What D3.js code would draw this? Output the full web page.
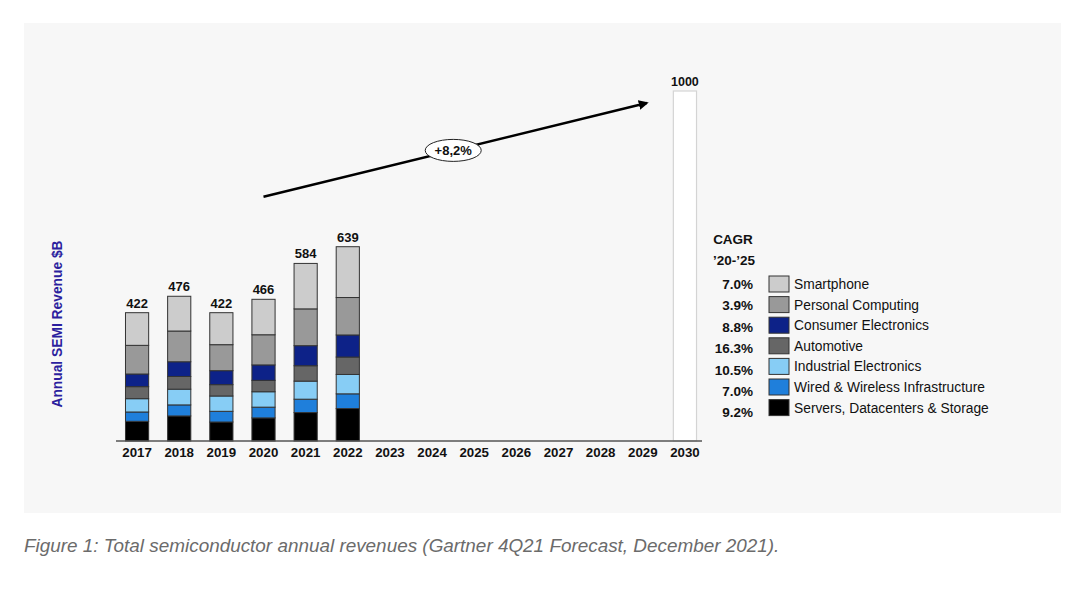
<!DOCTYPE html>
<html>
<head>
<meta charset="utf-8">
<title>Total semiconductor annual revenues</title>
<script src="https://d3js.org/d3.v7.min.js"></script>
<style>
  body { margin: 0; background: #ffffff; }
  svg text { font-family: "Liberation Sans", Arial, sans-serif; }
</style>
</head>
<body>
<script>
// categories
const years = ["2017", "2018", "2019", "2020", "2021", "2022", "2023", "2024", "2025", "2026", "2027", "2028", "2029", "2030"];
const actualYears = ["2017", "2018", "2019", "2020", "2021", "2022"];
const segments = ["Servers, Datacenters & Storage", "Wired & Wireless Infrastructure", "Industrial Electronics",
                  "Automotive", "Consumer Electronics", "Personal Computing", "Smartphone"];
const segmentColors = ["#000000", "#1f7fdb", "#87cdf5", "#666666", "#0d2288", "#999999", "#cccccc"];
const cagr = ["9.2%", "7.0%", "10.5%", "16.3%", "8.8%", "3.9%", "7.0%"];

// series values, $B
const servers    = [64.7, 82.4, 62.5, 76.0, 93.5, 106.7];
const wired      = [30.7, 36.3, 35.1, 35.3, 44.0, 48.4];
const industrial = [43.8, 51.7, 50.4, 50.7, 59.4, 63.8];
const automotive = [39.5, 41.8, 37.3, 37.5, 50.6, 57.2];
const consumer   = [41.6, 48.4, 46.0, 50.7, 66.0, 72.6];
const pc         = [94.3, 101.1, 85.5, 99.2, 121.0, 123.2];
const smartphone = [107.4, 114.3, 105.2, 116.6, 149.5, 167.1];
const totals     = [422, 476, 422, 466, 584, 639];

const forecastYear = "2030";
const forecastTotal = 1000;
const growthLabel = "+8,2%";
const growthFrom = {year: "2020", value: 755};
const growthTo = {year: "2029", value: 972};

const yLabel = "Annual SEMI Revenue $B";
const caption = "Figure 1: Total semiconductor annual revenues (Gartner 4Q21 Forecast, December 2021).";

const W = 1080, H = 589;
const svg = d3.select("body").append("svg")
    .attr("width", W)
    .attr("height", H);

// grey panel
svg.append("rect")
    .attr("x", 24).attr("y", 23)
    .attr("width", 1037).attr("height", 490)
    .attr("fill", "#f7f7f7");

var x = d3.scaleBand()
    .domain(years)
    .range([116, 706])
    .paddingInner(0.45)
    .paddingOuter(0.225);

// the 2030 bar is drawn taller than to scale in the original, so the scale bends above 640
var y = d3.scaleLinear()
    .domain([0, 640, 1000])
    .range([441, 246.4, 91]);

// stack the actual years
const series = [servers, wired, industrial, automotive, consumer, pc, smartphone];
const rows = actualYears.map((yr, i) => {
    const r = {year: yr};
    segments.forEach((s, j) => { r[s] = series[j][i]; });
    return r;
});
const stacked = d3.stack().keys(segments)(rows);

svg.append("g").selectAll("g")
    .data(stacked)
    .join("g")
    .attr("fill", (d, i) => segmentColors[i])
    .selectAll("rect")
    .data(d => d)
    .join("rect")
    .attr("x", d => x(d.data.year))
    .attr("y", d => y(d[1]))
    .attr("width", x.bandwidth())
    .attr("height", d => y(d[0]) - y(d[1]))
    .attr("stroke", "#333")
    .attr("stroke-width", 1);

// forecast bar
svg.append("rect")
    .attr("x", x(forecastYear))
    .attr("y", y(forecastTotal))
    .attr("width", x.bandwidth())
    .attr("height", y(0) - y(forecastTotal))
    .attr("fill", "#ffffff")
    .attr("stroke", "#d4d4d4")
    .attr("stroke-width", 1.2);

// totals
svg.append("g").selectAll("text")
    .data(actualYears)
    .join("text")
    .attr("x", d => x(d) + x.bandwidth() / 2)
    .attr("y", (d, i) => y(totals[i]) - 5)
    .attr("text-anchor", "middle")
    .attr("font-size", 13)
    .attr("font-weight", "bold")
    .attr("fill", "#111")
    .text((d, i) => totals[i]);

svg.append("text")
    .attr("x", x(forecastYear) + x.bandwidth() / 2)
    .attr("y", y(forecastTotal) - 5)
    .attr("text-anchor", "middle")
    .attr("font-size", 12.5)
    .attr("font-weight", "bold")
    .attr("fill", "#111")
    .text(forecastTotal);

// x axis
var xAxis = svg.append("g")
    .attr("transform", "translate(0," + y(0) + ")")
    .call(d3.axisBottom(x).tickSize(0).tickPadding(7));
xAxis.select(".domain")
    .attr("stroke", "#555")
    .attr("stroke-width", 1.5)
    .attr("d", "M" + 116 + ",0H" + 702);
xAxis.selectAll("text")
    .attr("font-family", "Liberation Sans, Arial, sans-serif")
    .attr("font-size", 13.3)
    .attr("font-weight", "bold")
    .attr("fill", "#111");

// y axis title
svg.append("text")
    .attr("transform", "translate(62,324) rotate(-90)")
    .attr("text-anchor", "middle")
    .attr("font-size", 13.8)
    .attr("font-weight", "bold")
    .attr("fill", "#2c1f9e")
    .text(yLabel);

// growth arrow
svg.append("defs").append("marker")
    .attr("id", "arrowhead")
    .attr("viewBox", "0 0 10 10")
    .attr("refX", 8).attr("refY", 5)
    .attr("markerWidth", 4).attr("markerHeight", 4)
    .attr("orient", "auto")
    .append("path")
    .attr("d", "M0,0L10,5L0,10z")
    .attr("fill", "#000");

const ax1 = x(growthFrom.year) + x.bandwidth() / 2, ay1 = y(growthFrom.value);
const ax2 = x(growthTo.year) + x.bandwidth() / 2 + 4, ay2 = y(growthTo.value);
svg.append("line")
    .attr("x1", ax1).attr("y1", ay1)
    .attr("x2", ax2).attr("y2", ay2)
    .attr("stroke", "#000")
    .attr("stroke-width", 2.5)
    .attr("marker-end", "url(#arrowhead)");

const ex = ax1 + (ax2 - ax1) * 0.495, ey = ay1 + (ay2 - ay1) * 0.495;
svg.append("ellipse")
    .attr("cx", ex).attr("cy", ey)
    .attr("rx", 28).attr("ry", 11)
    .attr("fill", "#ffffff")
    .attr("stroke", "#222")
    .attr("stroke-width", 1);
svg.append("text")
    .attr("x", ex).attr("y", ey + 4.5)
    .attr("text-anchor", "middle")
    .attr("font-size", 13)
    .attr("font-weight", "bold")
    .attr("fill", "#111")
    .text(growthLabel);

// legend with CAGR
svg.append("text")
    .attr("x", 733).attr("y", 244)
    .attr("text-anchor", "middle")
    .attr("font-size", 13.5)
    .attr("font-weight", "bold")
    .attr("fill", "#111")
    .text("CAGR");
svg.append("text")
    .attr("x", 734).attr("y", 265)
    .attr("text-anchor", "middle")
    .attr("font-size", 13.5)
    .attr("font-weight", "bold")
    .attr("fill", "#111")
    .text("\u201920-\u201925");

const legendOrder = d3.range(segments.length).reverse();
const lg = svg.append("g").selectAll("g")
    .data(legendOrder)
    .join("g");

lg.append("rect")
    .attr("x", 769)
    .attr("y", (d, k) => 276 + k * 20.6)
    .attr("width", 20).attr("height", 16)
    .attr("fill", d => segmentColors[d])
    .attr("stroke", "#333")
    .attr("stroke-width", 1);

lg.append("text")
    .attr("x", 794)
    .attr("y", (d, k) => 289 + k * 20.6)
    .attr("font-size", 13.8)
    .attr("fill", "#111")
    .text(d => segments[d]);

lg.append("text")
    .attr("x", 753)
    .attr("y", (d, k) => 289 + k * 21.4)
    .attr("text-anchor", "end")
    .attr("font-size", 13.5)
    .attr("font-weight", "bold")
    .attr("fill", "#111")
    .text(d => cagr[d]);

// caption
svg.append("text")
    .attr("x", 24).attr("y", 552)
    .attr("font-size", 18.9)
    .attr("font-style", "italic")
    .attr("fill", "#6b6b6b")
    .text(caption);
</script>
</body>
</html>
